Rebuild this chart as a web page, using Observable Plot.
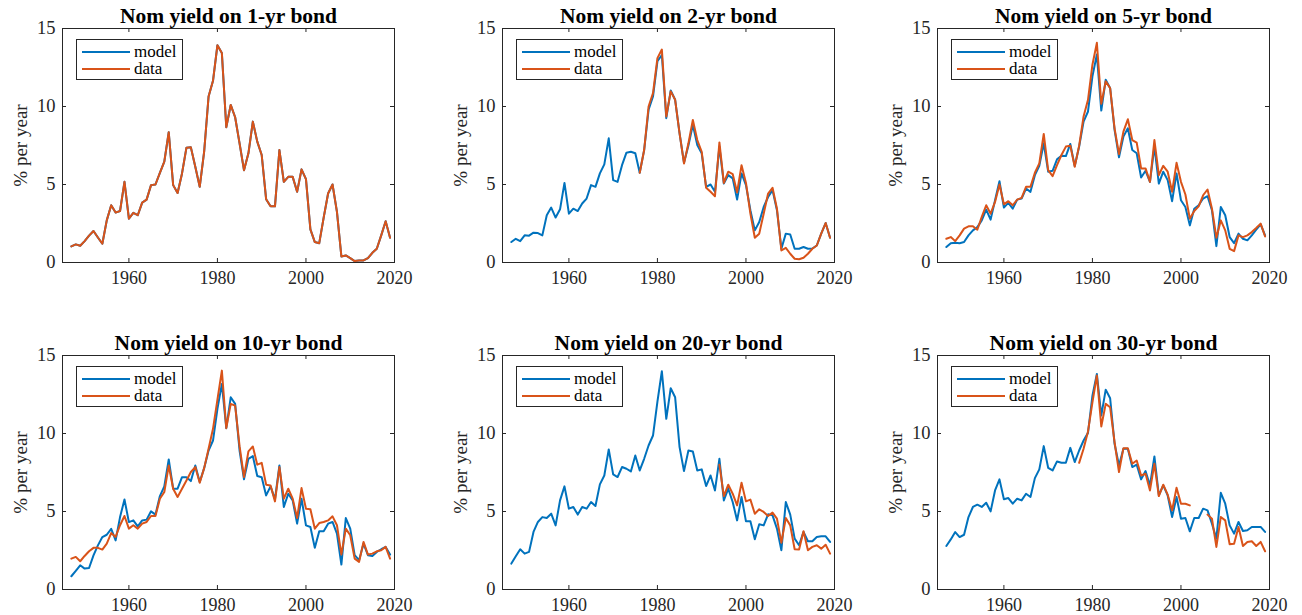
<!DOCTYPE html>
<html>
<head>
<meta charset="utf-8">
<script src="https://cdn.jsdelivr.net/npm/d3@7"></script>
<script src="https://cdn.jsdelivr.net/npm/@observablehq/plot@0.6"></script>
<style>
  body { margin: 0; background: white; overflow: hidden; }
  #chart { position: relative; width: 1302px; height: 615px; overflow: hidden; }
  .panel { position: absolute; }
  .legend {
    position: absolute; left: 76px; top: 39px; width: 105px; height: 39px;
    border: 1px solid #262626; background: white;
    font-family: "Liberation Serif", "Times New Roman", serif;
    font-size: 17px; line-height: 17px; color: #000;
  }
  .legend .row { position: absolute; left: 5px; height: 17px; display: flex; align-items: center; }
  .legend .swatch { width: 48px; height: 2px; margin-right: 4px; }
</style>
</head>
<body>
<div id="chart"></div>
<script>
const xTicks = [1960, 1980, 2000, 2020]
const yTicks = [0, 5, 10, 15]

const modelColor = "#0072BD"
const dataColor = "#D95319"
const serif = '"Liberation Serif", "Times New Roman", serif'

// 1-yr (model and data overlap completely)
const data1 = [1.03, 1.16, 1.07,
  1.37, 1.72, 2.02, 1.6, 1.2, 2.7, 3.67, 3.2, 3.3, 5.17,
  2.81, 3.18, 3.03, 3.84, 4.03, 4.96, 5.0, 5.75, 6.46, 8.35,
  4.96, 4.46, 5.71, 7.36, 7.38, 6.14, 4.85, 7.1, 10.64, 11.65,
  13.93, 13.43, 8.67, 10.1, 9.31, 7.64, 5.92, 7.0, 9.03, 7.75,
  6.89, 4.06, 3.6, 3.6, 7.21, 5.17, 5.49, 5.49, 4.53, 5.97,
  5.34, 2.12, 1.31, 1.24, 2.88, 4.42, 5.0, 3.24, 0.39, 0.45,
  0.28, 0.09, 0.13, 0.13, 0.28, 0.62, 0.88, 1.74, 2.64, 1.59]
const model1 = data1

// 2-yr
const model2 = [1.31, 1.52, 1.37,
  1.74, 1.72, 1.91, 1.89, 1.74, 3.03, 3.52, 2.88, 3.41, 5.1,
  3.13, 3.45, 3.3, 3.78, 4.1, 4.96, 4.85, 5.71, 6.29, 7.96,
  5.28, 5.17, 6.24, 7.04, 7.1, 7.0, 5.75, 7.2, 9.79, 10.64,
  12.9, 13.3, 9.25, 11.03, 10.43, 8.28, 6.4, 7.5, 8.82, 7.53,
  7.0, 4.85, 5.0, 4.53, 7.43, 5.06, 5.6, 5.39, 4.03, 5.71,
  4.96, 3.35, 2.06, 2.6, 3.56, 4.2, 4.64, 3.35, 0.88, 1.85,
  1.8, 0.88, 0.88, 0.99, 0.88, 0.9, 1.09, 1.85, 2.53, 1.59]
const data2From = 1976
const data2 = [5.75, 7.21, 10.0, 10.86,
  13.1, 13.65, 9.36, 10.97, 10.43, 8.28, 6.35, 7.64, 9.14, 7.85,
  7.1, 4.79, 4.53, 4.25, 7.7, 5.1, 5.82, 5.67, 4.49, 6.24,
  5.1, 3.13, 1.59, 1.85, 3.13, 4.42, 4.79, 3.45, 0.77, 0.94,
  0.56, 0.24, 0.21, 0.3, 0.56, 0.88, 1.09, 1.85, 2.53, 1.59]

// 5-yr
const model5 = [0.99, 1.24, 1.27,
  1.24, 1.31, 1.74, 2.06, 2.27, 2.7, 3.39, 2.75, 3.99, 5.21,
  3.52, 3.82, 3.45, 4.03, 4.1, 4.74, 4.53, 5.6, 6.2, 7.64,
  5.82, 5.88, 6.61, 6.85, 6.82, 7.6, 6.18, 7.43, 9.03, 9.68,
  11.93, 13.33, 9.74, 11.72, 11.18, 8.5, 6.74, 8.07, 8.6, 7.21,
  7.0, 5.45, 5.88, 5.17, 7.43, 5.06, 5.82, 5.28, 3.93, 5.71,
  3.99, 3.56, 2.38, 3.45, 3.67, 4.1, 4.25, 3.35, 1.05, 3.56,
  3.03, 1.63, 1.24, 1.85, 1.52, 1.42, 1.74, 2.1, 2.45, 1.74]
const data5From = 1947
const data5 = [1.52, 1.63, 1.37,
  1.74, 2.17, 2.32, 2.32, 2.1, 2.92, 3.67, 3.13, 3.88, 5.0,
  3.73, 3.93, 3.67, 4.03, 4.14, 4.85, 4.85, 5.75, 6.35, 8.24,
  5.92, 5.54, 6.24, 6.89, 7.43, 7.49, 6.14, 7.49, 9.36, 10.43,
  12.68, 14.08, 10.17, 11.61, 11.18, 8.6, 6.95, 8.39, 9.18, 7.85,
  7.68, 6.03, 6.03, 5.17, 7.85, 5.6, 6.2, 5.82, 4.53, 6.39,
  5.17, 4.36, 2.81, 3.3, 3.6, 4.31, 4.68, 3.45, 1.59, 2.7,
  2.06, 0.88, 0.73, 1.74, 1.63, 1.74, 1.95, 2.21, 2.49, 1.67]

// 10-yr
const model10 = [0.85, 1.19, 1.55,
  1.34, 1.38, 2.19, 2.83, 3.36, 3.51, 3.89, 3.15, 4.64, 5.77,
  4.32, 4.43, 4.05, 4.43, 4.48, 5.01, 4.8, 5.99, 6.61, 8.34,
  6.46, 6.46, 7.2, 7.2, 6.95, 7.95, 6.89, 7.78, 8.91, 9.55,
  11.58, 13.18, 10.34, 12.32, 11.9, 8.91, 7.06, 8.38, 8.55, 7.27,
  7.2, 6.03, 6.61, 5.78, 7.95, 5.29, 6.14, 5.71, 4.22, 5.82,
  4.11, 4.01, 2.67, 3.73, 3.73, 4.22, 4.33, 3.58, 1.6, 4.58,
  3.9, 2.2, 1.88, 2.94, 2.2, 2.15, 2.41, 2.58, 2.73, 2.24]
const data10From = 1947
const data10 = [1.98, 2.09, 1.81,
  2.15, 2.45, 2.67, 2.67, 2.56, 2.94, 3.62, 3.37, 4.12, 4.71,
  3.9, 4.12, 3.9, 4.22, 4.33, 4.71, 4.71, 5.82, 6.25, 7.95,
  6.46, 5.93, 6.46, 6.99, 7.53, 7.85, 6.84, 7.78, 9.02, 10.3,
  12.17, 14.03, 10.34, 11.9, 11.79, 9.19, 7.21, 8.85, 9.17, 8.0,
  8.12, 6.72, 6.67, 5.65, 7.85, 5.82, 6.46, 5.82, 4.58, 6.5,
  5.18, 5.14, 3.9, 4.26, 4.33, 4.43, 4.69, 4.12, 2.24, 3.9,
  3.48, 1.98, 1.77, 3.05, 2.24, 2.3, 2.45, 2.52, 2.73, 1.98]

// 20-yr
const model20 = [1.66, 2.13, 2.58,
  2.3, 2.41, 3.69, 4.33, 4.64, 4.58, 4.86, 4.11, 5.71, 6.61,
  5.18, 5.29, 4.8, 5.29, 5.18, 5.61, 5.35, 6.74, 7.31, 8.98,
  7.38, 7.21, 7.85, 7.74, 7.57, 8.59, 7.63, 8.38, 9.23, 9.87,
  12.05, 13.99, 10.94, 12.9, 12.32, 9.13, 7.59, 8.91, 8.85, 7.63,
  7.7, 6.63, 7.31, 6.35, 8.38, 5.71, 6.46, 5.61, 4.43, 5.93,
  4.37, 4.37, 3.22, 4.18, 4.11, 4.82, 4.75, 3.9, 2.52, 5.61,
  4.8, 3.26, 2.84, 3.69, 3.09, 3.09, 3.37, 3.41, 3.41, 3.05]
const data20From = 1994
const data20 = [8.0, 5.99, 6.72, 6.14, 5.39, 6.84,
  5.65, 5.76, 4.86, 5.14, 4.97, 4.71, 4.93, 4.54, 3.0, 4.58,
  4.11, 2.58, 2.56, 3.73, 2.52, 2.73, 2.84, 2.62, 2.87, 2.3]

// 30-yr (no data 2003-2005)
const model30 = [2.79, 3.21, 3.68,
  3.36, 3.51, 4.64, 5.29, 5.44, 5.29, 5.56, 5.01, 6.35, 7.06,
  5.78, 5.86, 5.5, 5.82, 5.71, 6.14, 5.93, 7.14, 7.7, 9.19,
  7.8, 7.63, 8.21, 8.12, 8.12, 9.08, 8.17, 8.91, 9.55, 10.04,
  12.43, 13.82, 11.15, 12.81, 12.26, 9.34, 7.95, 9.02, 9.02, 7.85,
  8.0, 7.06, 7.59, 6.67, 8.53, 6.03, 6.67, 6.03, 4.65, 5.93,
  4.54, 4.58, 3.73, 4.58, 4.58, 5.18, 5.07, 4.22, 3.26, 6.2,
  5.5, 4.11, 3.58, 4.33, 3.75, 3.8, 4.01, 4.01, 4.01, 3.69]
const data30From = 1977
const data30 = [8.12, 9.02, 10.13,
  12.0, 13.72, 10.45, 11.9, 11.68, 9.45, 7.53, 9.06, 9.06, 8.06,
  8.27, 7.31, 7.42, 6.35, 8.06, 5.99, 6.72, 6.08, 5.07, 6.52,
  5.5, 5.5, 5.39, null, null, null, 4.8, 4.54, 2.73, 4.65,
  4.43, 2.9, 2.94, 4.01, 2.79, 3.05, 3.09, 2.79, 3.05, 2.45]

const panels = [
  {title: "Nom yield on 1-yr bond", model: model1, data: data1, from: 1947},
  {title: "Nom yield on 2-yr bond", model: model2, data: data2, from: data2From},
  {title: "Nom yield on 5-yr bond", model: model5, data: data5, from: data5From},
  {title: "Nom yield on 10-yr bond", model: model10, data: data10, from: data10From},
  {title: "Nom yield on 20-yr bond", model: model20, data: data20, from: data20From},
  {title: "Nom yield on 30-yr bond", model: model30, data: data30, from: data30From},
]

const W = 420, H = 288
const mL = 62, mR = 26, mT = 28, mB = 26
const fw = W - mL - mR, fh = H - mT - mB
const ink = "#262626"

function rows(values, from) {
  return values.map((v, i) => ({year: from + i, value: v}))
}

function makePanel(p) {
  return Plot.plot({
    width: W, height: H,
    marginLeft: mL, marginRight: mR, marginTop: mT, marginBottom: mB,
    x: {domain: [1945, 2020]},
    y: {domain: [0, 15]},
    style: {fontFamily: serif, fontSize: "18px", color: ink, background: "white", overflow: "visible"},
    marks: [
      Plot.line(rows(p.model, 1947), {x: "year", y: "value", stroke: modelColor, strokeWidth: 2}),
      Plot.line(rows(p.data, p.from), {x: "year", y: "value", stroke: dataColor, strokeWidth: 2}),
      Plot.frame({stroke: ink}),
      // inward ticks on all four sides
      Plot.tickX(xTicks, {insetTop: fh - 4, stroke: ink}),
      Plot.tickX(xTicks, {insetBottom: fh - 4, stroke: ink}),
      Plot.tickY(yTicks, {insetRight: fw - 4, stroke: ink}),
      Plot.tickY(yTicks, {insetLeft: fw - 4, stroke: ink}),
      Plot.axisX({ticks: xTicks, tickSize: 0, tickPadding: 9, tickFormat: d => String(d), label: null, fontSize: 18}),
      Plot.axisY({ticks: yTicks, tickSize: 0, tickPadding: 7, label: null, fontSize: 18.5}),
      Plot.text([p.title], {frameAnchor: "top", dy: -6, lineAnchor: "bottom", fontWeight: "bold", fontSize: 21.5, fill: "black"}),
      Plot.text(["% per year"], {frameAnchor: "left", dx: -36, rotate: -90, textAnchor: "middle", lineAnchor: "bottom", fontSize: 19, fill: ink}),
    ],
  })
}

const lefts = [0, 440, 875]
const tops = [0, 327]

panels.forEach((p, i) => {
  const div = d3.select('#chart').append('div')
    .attr('class', 'panel')
    .style('left', lefts[i % 3] + 'px')
    .style('top', tops[Math.floor(i / 3)] + 'px')
  div.append(() => makePanel(p))
  const leg = div.append('div').attr('class', 'legend')
  ;[["model", modelColor], ["data", dataColor]].forEach(([name, color], j) => {
    const row = leg.append('div').attr('class', 'row').style('top', (3 + j * 17) + 'px')
    row.append('span').attr('class', 'swatch').style('background', color)
    row.append('span').text(name)
  })
})
</script>
</body>
</html>
